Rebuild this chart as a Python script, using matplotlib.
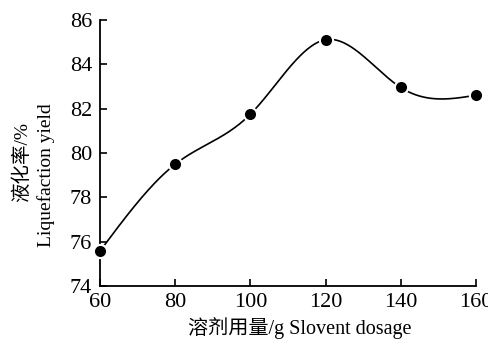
import numpy as np
import matplotlib
matplotlib.use("Agg")
import matplotlib.pyplot as plt

plt.rcParams['font.family'] = ['Liberation Serif', 'Noto Sans CJK SC']

dosage = [60, 80, 100, 120, 140, 160]
yield_pct = [75.6, 79.5, 81.75, 85.1, 82.95, 82.6]
x_ticks = [60, 80, 100, 120, 140, 160]
y_ticks = [74, 76, 78, 80, 82, 84, 86]


def natural_spline(x, y, n=300):
    """Smooth curve through the points (natural cubic spline)."""
    x = np.asarray(x, float)
    y = np.asarray(y, float)
    k = len(x)
    h = np.diff(x)
    a = np.zeros((k, k))
    b = np.zeros(k)
    a[0, 0] = a[-1, -1] = 1
    for i in range(1, k - 1):
        a[i, i - 1] = h[i - 1]
        a[i, i] = 2 * (h[i - 1] + h[i])
        a[i, i + 1] = h[i]
        b[i] = 6 * ((y[i + 1] - y[i]) / h[i] - (y[i] - y[i - 1]) / h[i - 1])
    m = np.linalg.solve(a, b)
    xs = np.linspace(x[0], x[-1], n)
    idx = np.clip(np.searchsorted(x, xs) - 1, 0, k - 2)
    t0 = x[idx + 1] - xs
    t1 = xs - x[idx]
    hi = h[idx]
    ys = (m[idx] * t0 ** 3 + m[idx + 1] * t1 ** 3) / (6 * hi) \
        + (y[idx] / hi - m[idx] * hi / 6) * t0 \
        + (y[idx + 1] / hi - m[idx + 1] * hi / 6) * t1
    return xs, ys


fig, ax = plt.subplots(figsize=(4.89, 3.4), dpi=100)
fig.subplots_adjust(left=0.205, right=0.973, top=0.942, bottom=0.158)

xs, ys = natural_spline(dosage, yield_pct)
ax.plot(xs, ys, color="black", lw=1.2, zorder=2)
ax.plot(dosage, yield_pct, "o", color="black", ms=9.5, mec="white",
        mew=1.5, zorder=3, clip_on=False)

ax.set_xlim(60, 160)
ax.set_ylim(74, 86)
ax.set_xticks(x_ticks)
ax.set_yticks(y_ticks)
ax.spines["top"].set_visible(False)
ax.spines["right"].set_visible(False)
for s in ("left", "bottom"):
    ax.spines[s].set_linewidth(1.3)
ax.tick_params(direction="in", length=5, width=1.2, labelsize=16)
ax.tick_params(axis="x", pad=5)
ax.tick_params(axis="y", pad=6)

ax.set_xlabel("溶剂用量/g Slovent dosage", fontsize=14.5)
ax.xaxis.set_label_coords(0.53, -0.117)

# two-line y label, the lines are not centred on each other in the original
fig.text(0.045, 0.524, "液化率/%", rotation=90, ha="center", va="center",
         fontsize=14)
fig.text(0.094, 0.485, "Liquefaction yield", rotation=90, ha="center",
         va="center", fontsize=14)

plt.savefig("out.png")
